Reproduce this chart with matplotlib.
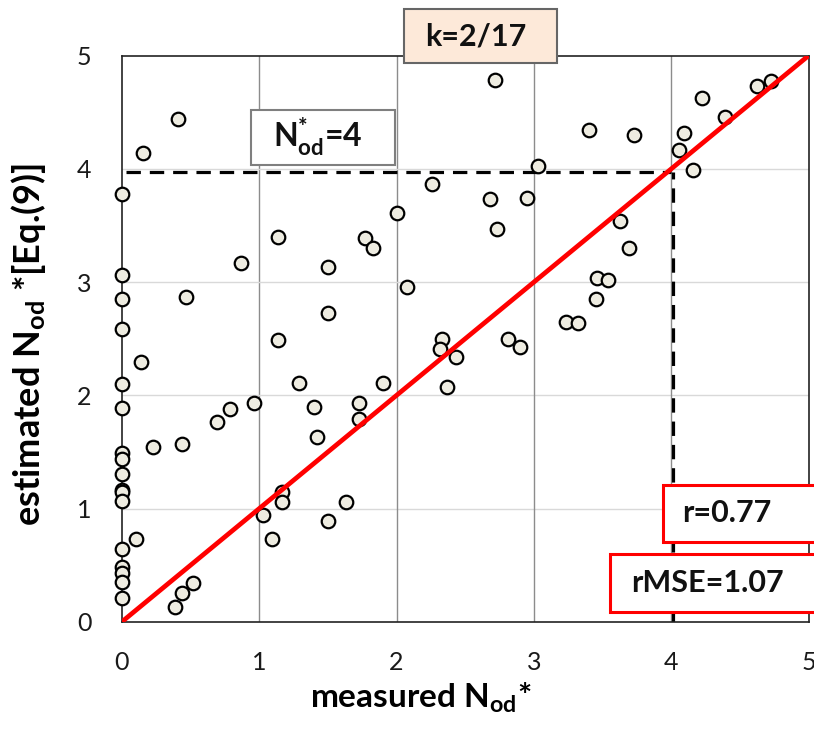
import matplotlib
matplotlib.use("Agg")
import matplotlib.pyplot as plt
from matplotlib.patches import Rectangle

# measured vs estimated N_od*
measured = [0.405, 0.153, 0.0, 2.0, 1.134, 1.77, 1.826, 0.864, 1.498, 0.0,
            0.464, 0.0, 1.498, 0.0, 1.134, 2.714, 4.625, 4.73, 4.224, 4.394,
            3.404, 3.73, 4.095, 4.059, 3.03, 4.161, 2.255, 2.683, 2.947, 2.731,
            3.627, 3.695, 2.073, 3.462, 3.537, 3.45, 3.234, 3.323, 2.33, 2.81,
            2.316, 2.433, 2.367, 2.899, 1.903, 0.136, 0.0, 1.29, 0.0, 0.79,
            0.964, 0.694, 1.396, 1.724, 1.724, 1.423, 0.228, 0.435, 0.0, 0.0,
            0.0, 0.0, 0.0, 0.0, 1.163, 1.163, 1.03, 1.629, 1.498, 1.095,
            0.1, 0.0, 0.0, 0.0, 0.0, 0.0, 0.519, 0.435, 0.388]
estimated = [4.44, 4.14, 3.78, 3.61, 3.40, 3.39, 3.30, 3.17, 3.13, 3.06,
             2.87, 2.85, 2.73, 2.59, 2.49, 4.785, 4.73, 4.78, 4.63, 4.456,
             4.34, 4.30, 4.32, 4.17, 4.03, 3.99, 3.87, 3.73, 3.74, 3.47,
             3.54, 3.30, 2.96, 3.04, 3.02, 2.85, 2.65, 2.64, 2.50, 2.50,
             2.406, 2.34, 2.076, 2.43, 2.11, 2.29, 2.10, 2.11, 1.885, 1.88,
             1.93, 1.76, 1.894, 1.93, 1.79, 1.634, 1.54, 1.567, 1.487, 1.434,
             1.305, 1.163, 1.143, 1.066, 1.149, 1.057, 0.945, 1.057, 0.887, 0.728,
             0.728, 0.64, 0.48, 0.428, 0.353, 0.207, 0.339, 0.251, 0.127]

ticks = [0, 1, 2, 3, 4, 5]
threshold = 4
k_label = "k=2/17"
r_label = "r=0.77"
rmse_label = "rMSE=1.07"

plt.rcParams["font.family"] = ["Lato", "DejaVu Sans"]
plt.rcParams["mathtext.fontset"] = "custom"
plt.rcParams["mathtext.rm"] = "Lato"
plt.rcParams["mathtext.bf"] = "Lato:bold"
plt.rcParams["mathtext.it"] = "Lato:italic"

W, H = 814, 731
fig = plt.figure(figsize=(W / 100, H / 100), dpi=100)
ax = fig.add_axes([122 / W, 1 - 621.7 / H, (808.5 - 122) / W, (621.7 - 55.7) / H])

ax.set_xlim(0, 5)
ax.set_ylim(0, 5)
ax.set_xticks(ticks)
ax.set_yticks(ticks)
ax.tick_params(length=0, labelsize=18, labelcolor="#1a1a1a")
ax.tick_params(axis="x", pad=21)
ax.tick_params(axis="y", pad=22)

for v in ticks[1:-1]:
    ax.axvline(v, color="#8c8c8c", lw=1.0, zorder=0)
    ax.axhline(v, color="#d9d9d9", lw=1.0, zorder=0)
for s in ax.spines.values():
    s.set_color("#222222")
    s.set_linewidth(1.2)

# threshold dashed lines
ax.plot([0.03, threshold], [3.97, 3.97], color="black", lw=2.3, ls=(0, (4.5, 2.8)), zorder=2)
ax.plot([4.01, 4.01], [0, 3.97], color="black", lw=2.3, ls=(0, (4.5, 2.8)), zorder=2)

ax.scatter(measured, estimated, s=95, facecolor="#eeece1", edgecolor="black",
           linewidth=1.6, zorder=3, clip_on=False)

# 1:1 line
ax.plot([0, 5], [0, 5], color="#ff0000", lw=3.4, zorder=4, solid_capstyle="butt")

ax.set_xlabel(r"measured N$_{\mathbf{od}}$*", fontsize=24, fontweight="bold")
ax.set_ylabel(r"estimated N$_{\mathbf{od}}$ *[Eq.(9)]", fontsize=26, fontweight="bold")
ax.xaxis.set_label_coords(0.4355, -0.105)
ax.yaxis.set_label_coords(-0.108, 0.49)


def px_box(x0, y0, x1, y1, text, tx, fc, ec, lw, fs=22):
    """Box given in pixel coords (origin top-left)."""
    rect = Rectangle((x0 / W, 1 - y1 / H), (x1 - x0) / W, (y1 - y0) / H,
                     transform=fig.transFigure, facecolor=fc, edgecolor=ec,
                     linewidth=lw, zorder=10)
    fig.patches.append(rect)
    fig.text(tx / W, 1 - (y0 + y1) / 2 / H, text, ha="center", va="center",
             fontsize=fs, fontweight="bold", color="#111111", zorder=11)


px_box(404, 9.5, 557, 63, k_label, 476, "#fde9d9", "#666666", 1.5)
px_box(251, 109.5, 395, 165, r"N$_{\mathbf{od}}^{\mathbf{*}}$=4", 317.5, "white", "#7f7f7f", 1.5, fs=23)
px_box(663, 484.5, 820, 541.5, r_label, 726.5, "white", "#ff0000", 2.2)
px_box(609.5, 553.5, 820, 612, rmse_label, 707.5, "white", "#ff0000", 2.2)

fig.savefig("out.png", dpi=100)
